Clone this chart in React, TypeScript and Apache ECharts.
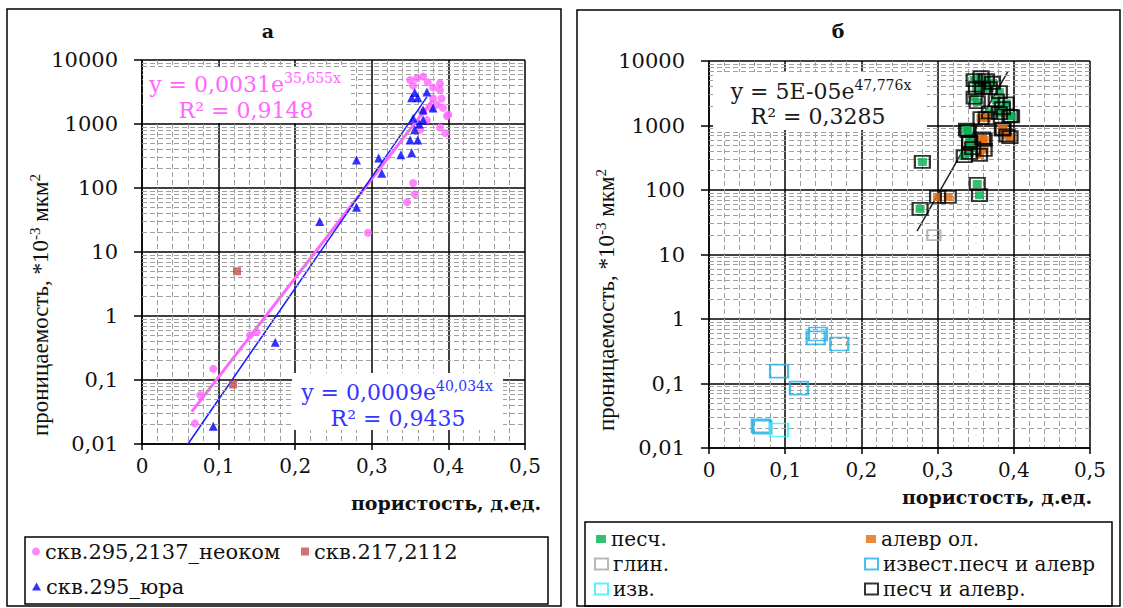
import React, { useEffect, useRef } from 'react';
import * as echarts from 'echarts';

// ---------- DATA (panel а) ----------
const neokomData: [number, number][] = [
  [0.069, 0.021], [0.076, 0.058], [0.093, 0.15], [0.141, 0.5], [0.15, 0.56],
  [0.295, 20], [0.346, 60], [0.354, 120], [0.356, 80],
  [0.35, 4870], [0.359, 5200], [0.367, 5500], [0.373, 4500], [0.354, 4000],
  [0.38, 3700], [0.389, 3400], [0.391, 2500], [0.38, 2500], [0.376, 1840],
  [0.385, 2000], [0.393, 1800], [0.372, 1150], [0.4, 1400], [0.389, 880],
  [0.396, 720], [0.363, 810], [0.367, 1550], [0.389, 4300], [0.398, 1330],
];
const well217Data: [number, number][] = [[0.124, 5.0], [0.119, 0.085]];
const juraData: [number, number][] = [
  [0.093, 0.019], [0.174, 0.39], [0.232, 30], [0.28, 50], [0.28, 275],
  [0.309, 295], [0.313, 170], [0.338, 330], [0.352, 355], [0.35, 560],
  [0.36, 560], [0.356, 810], [0.354, 1230], [0.367, 1150], [0.36, 2570],
  [0.352, 2570], [0.372, 3170], [0.38, 1780], [0.367, 1660], [0.356, 3100],
  [0.362, 1000],
];
const pinkTrend: [number, number][] = [[0.065, 0.032], [0.38, 2400]];
const blueTrend: [number, number][] = [[0.06, 0.01], [0.372, 2650]];

// ---------- DATA (panel б) ----------
const sandData: [number, number][] = [
  [0.28, 272], [0.277, 51], [0.352, 124], [0.355, 83], [0.335, 336],
  [0.342, 536], [0.34, 822], [0.395, 1410], [0.348, 5070], [0.357, 5600],
  [0.364, 5070], [0.372, 4600], [0.351, 3800], [0.359, 3900], [0.368, 3800],
  [0.381, 3300], [0.348, 2700], [0.377, 2450], [0.39, 2200], [0.385, 1850],
  [0.397, 1380], [0.381, 1550], [0.338, 860], [0.342, 560], [0.346, 445],
  [0.342, 375], [0.352, 2300], [0.368, 1600],
];
const siltData: [number, number][] = [
  [0.357, 1300], [0.364, 1300], [0.385, 860], [0.391, 700], [0.359, 630],
  [0.361, 420], [0.3, 78], [0.314, 78], [0.355, 350], [0.361, 600],
  [0.386, 890], [0.395, 660],
];
const clayData: [number, number][] = [[0.295, 20]];
const limeSandSiltData: [number, number][] = [
  [0.143, 0.585], [0.14, 0.51], [0.171, 0.41], [0.092, 0.156],
  [0.118, 0.085], [0.07, 0.021], [0.068, 0.022],
];
const limeData: [number, number][] = [[0.092, 0.019]];
const sandSiltData: [number, number][] = [...sandData, ...siltData];
const blackTrend: [number, number][] = [[0.273, 23], [0.392, 6790]];

const X_MIN = 0;
const X_MAX = 0.5;
const X_STEP = 0.1;
const Y_MIN = 0.01;
const Y_MAX = 10000;
const DECADES = [0.01, 0.1, 1, 10, 100, 1000];
const MINOR_MULT = [2, 3, 4, 5, 6, 7, 8, 9];

const SERIF = 'DejaVu Serif';
const NARROW = 'Liberation Serif';

const fmt = (v: number) => Number(Number(v).toPrecision(8)).toString().replace('.', ',');

function xAxisCfg(gridIndex: number) {
  return {
    type: 'value', gridIndex, min: X_MIN, max: X_MAX, interval: X_STEP,
    axisLine: { show: true, onZero: false, lineStyle: { color: '#000', width: 1.5 } },
    axisTick: { show: true, inside: false, length: 6, lineStyle: { color: '#000', width: 1.5 } },
    axisLabel: { margin: 12, color: '#111', fontFamily: SERIF, fontSize: 20, formatter: fmt },
    splitLine: { show: true, lineStyle: { color: '#000', width: 1.5 } },
    minorTick: { show: false, splitNumber: 5 },
    minorSplitLine: { show: true, lineStyle: { color: '#a0a0a0', width: 1, type: [5, 3] } },
  };
}
function yAxisCfg(gridIndex: number) {
  return {
    type: 'log', logBase: 10, gridIndex, min: Y_MIN, max: Y_MAX, splitNumber: 6,
    axisLine: { show: true, onZero: false, lineStyle: { color: '#000', width: 1.5 } },
    axisTick: { show: true, inside: false, length: 8, lineStyle: { color: '#000', width: 1.5 } },
    axisLabel: { margin: 24, color: '#111', fontFamily: SERIF, fontSize: 21, formatter: fmt },
    splitLine: { show: true, lineStyle: { color: '#000', width: 1.5 } },
  };
}
function minorHelper(i: number) {
  const vals: number[] = [];
  DECADES.forEach((d) => MINOR_MULT.forEach((m) => vals.push(Number((d * m).toPrecision(6)))));
  return {
    type: 'line', name: 'minor' + i, xAxisIndex: i, yAxisIndex: i, data: [], silent: true, z: 1,
    markLine: {
      silent: true, symbol: ['none', 'none'], label: { show: false }, emphasis: { disabled: true },
      lineStyle: { color: '#a0a0a0', width: 1, type: [5, 3] },
      data: vals.map((v) => ({ yAxis: v })),
    },
  };
}
function trend(name: string, data: [number, number][], i: number, color: string, width: number) {
  return {
    type: 'line', name, xAxisIndex: i, yAxisIndex: i, data, showSymbol: false, silent: true, z: 4,
    lineStyle: { color, width }, emphasis: { disabled: true },
  };
}
function scatter(name: string, data: [number, number][], i: number, symbol: string, size: any, itemStyle: any, z = 5) {
  return { type: 'scatter', name, xAxisIndex: i, yAxisIndex: i, data, symbol, symbolSize: size, itemStyle, z, emphasis: { disabled: true } };
}
function legend(name: string, icon: string, left: number, top: number, w: number, h: number, itemStyle: any, fontSize = 20) {
  return {
    data: [{ name, icon, itemStyle }], left, top, itemWidth: w, itemHeight: h, selectedMode: false,
    padding: 0, textStyle: { fontFamily: SERIF, fontSize, color: '#111' },
  };
}
const supRich = (fill: string, size: number) => ({
  m: { fontFamily: SERIF, fontSize: size, fill, color: fill, lineHeight: 26, verticalAlign: 'middle' },
  s: { fontFamily: SERIF, fontSize: 14, fill, color: fill, lineHeight: 14, verticalAlign: 'top' },
});
function eqText(x: number, y: number, text: string, fill: string) {
  return {
    type: 'text', x, y, z: 10,
    style: { text, rich: supRich(fill, 22), align: 'center', verticalAlign: 'middle', fill },
  };
}
function yName(x: number, y: number) {
  return {
    type: 'text', x, y, rotation: Math.PI / 2, z: 10,
    style: {
      text: '{a|проницаемость, *10}{s|-3}{a| мкм}{s|2}',
      align: 'center', verticalAlign: 'middle', fill: '#111',
      rich: {
        a: { fontFamily: NARROW, fontSize: 23, fill: '#111', color: '#111', lineHeight: 26, verticalAlign: 'middle' },
        s: { fontFamily: NARROW, fontSize: 15, fill: '#111', color: '#111', lineHeight: 14, verticalAlign: 'top' },
      },
    },
  };
}

export default function App() {
  const ref = useRef<HTMLDivElement>(null);
  useEffect(() => {
    if (!ref.current) return;
    const chart = echarts.init(ref.current, null, { renderer: 'svg' });
    const frame = { fill: 'none', stroke: '#000', lineWidth: 1.5 };
    chart.setOption({
      animation: false,
      backgroundColor: '#fff',
      grid: [
        { left: 142, top: 60, width: 383, height: 384 },
        { left: 709, top: 61, width: 381, height: 387 },
      ],
      xAxis: [xAxisCfg(0), xAxisCfg(1)],
      yAxis: [yAxisCfg(0), yAxisCfg(1)],
      legend: [
        legend('скв.295,2137_неоком', 'circle', 32, 541, 8, 8, { color: '#ff66ff' }, 21),
        legend('скв.217,2112', 'rect', 301, 541, 8, 8, { color: '#c0504d' }, 21),
        legend('скв.295_юра', 'triangle', 32, 576, 9, 8, { color: '#0000ff' }, 21),
        legend('песч.', 'rect', 596, 529, 10, 8, { color: '#00b050' }),
        legend('алевр ол.', 'rect', 866, 529, 10, 8, { color: '#e46c0a' }),
        legend('глин.', 'rect', 594, 554, 13, 11, { color: '#fff', borderColor: '#a6a6a6', borderWidth: 2 }),
        legend('извест.песч и алевр', 'rect', 864, 554, 13, 11, { color: '#fff', borderColor: '#1fb0e8', borderWidth: 2 }),
        legend('изв.', 'rect', 594, 579, 13, 11, { color: '#fff', borderColor: '#33eeff', borderWidth: 2 }),
        legend('песч и алевр.', 'rect', 864, 579, 13, 11, { color: '#fff', borderColor: '#000', borderWidth: 2 }),
      ],
      series: [
        minorHelper(0),
        minorHelper(1),
        trend('trendPink', pinkTrend, 0, '#ff66ff', 3),
        trend('trendBlue', blueTrend, 0, '#1a1aff', 1.5),
        scatter('скв.295,2137_неоком', neokomData, 0, 'circle', 8, { color: '#ff66ff' }),
        scatter('скв.217,2112', well217Data, 0, 'rect', 8, { color: '#c0504d' }),
        scatter('скв.295_юра', juraData, 0, 'triangle', 9, { color: '#0000ff' }),
        scatter('песч.', sandData, 1, 'rect', [9, 8], { color: '#00b050' }),
        scatter('алевр ол.', siltData, 1, 'rect', [9, 8], { color: '#e46c0a' }),
        scatter('глин.', clayData, 1, 'rect', [13, 10], { color: 'rgba(0,0,0,0)', borderColor: '#a6a6a6', borderWidth: 2 }),
        scatter('извест.песч и алевр', limeSandSiltData, 1, 'rect', [18, 13], { color: 'rgba(0,0,0,0)', borderColor: '#1fb0e8', borderWidth: 2 }),
        scatter('изв.', limeData, 1, 'rect', [18, 13], { color: 'rgba(0,0,0,0)', borderColor: '#33eeff', borderWidth: 2 }),
        scatter('песч и алевр.', sandSiltData, 1, 'rect', [15, 12], { color: 'rgba(0,0,0,0)', borderColor: '#000', borderWidth: 2 }, 6),
        trend('trendBlack', blackTrend, 1, '#222', 1.5),
      ],
      graphic: [
        { type: 'rect', shape: { x: 7, y: 9, width: 554, height: 597 }, style: frame, z: 0 },
        { type: 'rect', shape: { x: 577, y: 10, width: 543, height: 596 }, style: frame, z: 0 },
        { type: 'rect', shape: { x: 25, y: 537, width: 523, height: 67 }, style: frame, z: 0 },
        { type: 'rect', shape: { x: 585, y: 522, width: 527, height: 84 }, style: frame, z: 0 },
        { type: 'text', x: 268, y: 31, style: { text: 'а', font: `bold 19px "${SERIF}"`, fill: '#111', align: 'center', verticalAlign: 'middle' } },
        { type: 'text', x: 838, y: 31, style: { text: 'б', font: `bold 19px "${SERIF}"`, fill: '#111', align: 'center', verticalAlign: 'middle' } },
        { type: 'text', x: 541, y: 503, style: { text: 'пористость, д.ед.', font: `bold 19px "${SERIF}"`, fill: '#111', align: 'right', verticalAlign: 'middle' } },
        { type: 'text', x: 1092, y: 497, style: { text: 'пористость, д.ед.', font: `bold 19px "${SERIF}"`, fill: '#111', align: 'right', verticalAlign: 'middle' } },
        yName(40, 305),
        yName(606, 300),
        { type: 'rect', shape: { x: 143, y: 67, width: 208, height: 56 }, style: { fill: '#fff' }, z: 9 },
        eqText(245, 84, '{m|y = 0,0031e}{s|35,655x}', '#ff66ff'),
        eqText(246, 110, '{m|R² = 0,9148}', '#ff66ff'),
        { type: 'rect', shape: { x: 292, y: 373, width: 211, height: 57 }, style: { fill: '#fff' }, z: 9 },
        eqText(397, 392, '{m|y = 0,0009e}{s|40,034x}', '#3535ff'),
        eqText(398, 418, '{m|R² = 0,9435}', '#3535ff'),
        { type: 'rect', shape: { x: 713, y: 72, width: 214, height: 58 }, style: { fill: '#fff' }, z: 9 },
        eqText(821, 91, '{m|y = 5E-05e}{s|47,776x}', '#1a1a1a'),
        eqText(818, 116, '{m|R² = 0,3285}', '#1a1a1a'),
      ],
    });
    return () => chart.dispose();
  }, []);
  return <div ref={ref} style={{ position: 'absolute', left: 0, top: 0, width: 1123, height: 608 }} />;
}
